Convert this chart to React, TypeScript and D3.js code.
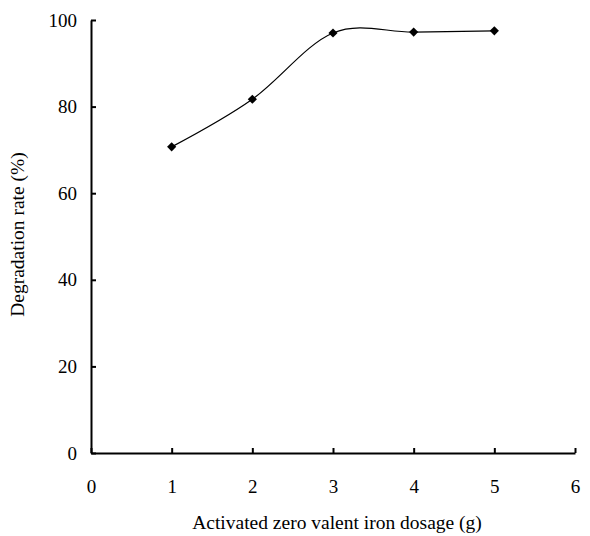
import React, { useEffect, useRef } from 'react';
import * as d3 from 'd3';

const dosages = [1, 2, 3, 4, 5];
const degradation = [70.7, 81.7, 97.0, 97.2, 97.5];
const xTicks = [0, 1, 2, 3, 4, 5, 6];
const yTicks = [0, 20, 40, 60, 80, 100];
const xLabel = 'Activated zero valent iron dosage (g)';
const yLabel = 'Degradation rate (%)';

const W = 590;
const H = 536;

const App: React.FC = () => {
  const svgRef = useRef<SVGSVGElement>(null);

  useEffect(() => {
    if (svgRef.current) drawChart(svgRef.current);
  }, []);

  return (
    <svg
      ref={svgRef}
      width={W}
      height={H}
      style={{ position: 'absolute', left: 0, top: 0, background: '#fff' }}
    />
  );
};

const drawChart = (el: SVGSVGElement) => {
  const margin = { top: 20, left: 91, right: 15, bottom: 83 };
  const width = W - margin.left - margin.right;
  const height = H - margin.top - margin.bottom;
  const font = 'Liberation Serif';

  const root = d3.select(el);
  root.selectAll('*').remove();

  const svg = root.append('g').attr('transform', `translate(${margin.left}, ${margin.top})`);

  const xScale = d3.scaleLinear().domain([0, 6]).range([0, width]);
  const yScale = d3.scaleLinear().domain([0, 100]).range([height, 0]);

  const yAxisG = svg.append('g');
  yAxisG.call(
    d3
      .axisLeft(yScale)
      .tickValues(yTicks)
      .tickFormat(d3.format('d') as any)
      .tickSizeInner(-5)
      .tickSizeOuter(0)
      .tickPadding(14)
  );

  const xAxisG = svg.append('g').attr('transform', `translate(0, ${height})`);
  xAxisG.call(
    d3
      .axisBottom(xScale)
      .tickValues(xTicks)
      .tickFormat(d3.format('d') as any)
      .tickSizeInner(-5)
      .tickSizeOuter(0)
      .tickPadding(27)
  );

  svg.selectAll('.domain').attr('stroke', '#000').attr('stroke-width', 2);
  svg.selectAll('.tick line').attr('stroke', '#000').attr('stroke-width', 2);
  yAxisG.attr('font-family', font).attr('font-size', 19);
  xAxisG.attr('font-family', font).attr('font-size', 19);
  svg.selectAll('.tick text').attr('fill', '#000');

  svg
    .append('text')
    .attr('fill', '#000')
    .attr('font-family', font)
    .attr('font-size', 19.5)
    .style('text-anchor', 'middle')
    .attr('x', width / 2 + 4)
    .attr('y', height + 76)
    .text(xLabel);

  svg
    .append('text')
    .attr('fill', '#000')
    .attr('font-family', font)
    .attr('font-size', 19.5)
    .style('text-anchor', 'middle')
    .attr('transform', `translate(-67, ${height / 2 - 2}) rotate(-90)`)
    .text(yLabel);

  const points = dosages.map((d, i) => [d, degradation[i]] as [number, number]);

  const lineGenerator = d3
    .line<[number, number]>()
    .x((d) => xScale(d[0]))
    .y((d) => yScale(d[1]))
    .curve(d3.curveCardinal.tension(0));

  svg
    .append('path')
    .attr('d', lineGenerator(points) || '')
    .attr('fill', 'none')
    .attr('stroke', '#000')
    .attr('stroke-width', 1.2);

  const marker = d3.symbol().type(d3.symbolSquare).size(42);
  svg
    .selectAll('.marker')
    .data(points)
    .enter()
    .append('path')
    .attr('class', 'marker')
    .attr('d', marker() || '')
    .attr('transform', (d) => `translate(${xScale(d[0])}, ${yScale(d[1])}) rotate(45)`)
    .attr('fill', '#000');
};

export default App;
